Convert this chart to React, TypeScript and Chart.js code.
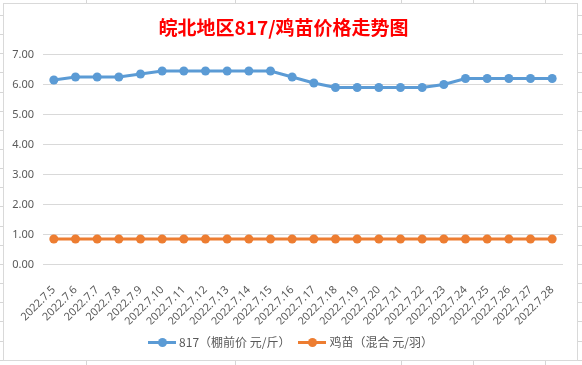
import React, { useEffect, useRef } from "react";
import { Chart, registerables } from "chart.js";

Chart.register(...registerables);

const TITLE = "皖北地区817/鸡苗价格走势图";
const CATEGORIES = [
  "2022.7.5", "2022.7.6", "2022.7.7", "2022.7.8", "2022.7.9", "2022.7.10",
  "2022.7.11", "2022.7.12", "2022.7.13", "2022.7.14", "2022.7.15", "2022.7.16",
  "2022.7.17", "2022.7.18", "2022.7.19", "2022.7.20", "2022.7.21", "2022.7.22",
  "2022.7.23", "2022.7.24", "2022.7.25", "2022.7.26", "2022.7.27", "2022.7.28",
];
const SERIES_817_NAME = "817（棚前价 元/斤）";
const SERIES_817 = [
  6.15, 6.25, 6.25, 6.25, 6.35, 6.45, 6.45, 6.45, 6.45, 6.45, 6.45, 6.25,
  6.05, 5.9, 5.9, 5.9, 5.9, 5.9, 6.0, 6.2, 6.2, 6.2, 6.2, 6.2,
];
const SERIES_CHICK_NAME = "鸡苗（混合 元/羽）";
const SERIES_CHICK = [
  0.85, 0.85, 0.85, 0.85, 0.85, 0.85, 0.85, 0.85, 0.85, 0.85, 0.85, 0.85,
  0.85, 0.85, 0.85, 0.85, 0.85, 0.85, 0.85, 0.85, 0.85, 0.85, 0.85, 0.85,
];
const Y_MIN = 0;
const Y_MAX = 7;
const Y_STEP = 1;

const BLUE = "#5b9bd5";
const ORANGE = "#ed7d31";
const TEXT = "#595959";
const GRID = "#d9d9d9";

const SERIES = [
  { name: SERIES_817_NAME, data: SERIES_817, color: BLUE },
  { name: SERIES_CHICK_NAME, data: SERIES_CHICK, color: ORANGE },
];

const gridBg =
  "linear-gradient(90deg, transparent 86px, #d6d6d6 86px, #d6d6d6 87px, transparent 87px, transparent 235px, #d6d6d6 235px, #d6d6d6 236px, transparent 236px, transparent 401px, #d6d6d6 401px, #d6d6d6 402px, transparent 402px, transparent 473px, #d6d6d6 473px, #d6d6d6 474px, transparent 474px, transparent 545px, #d6d6d6 545px, #d6d6d6 546px, transparent 546px)," +
  "repeating-linear-gradient(180deg, transparent 0px, transparent 15px, #d6d6d6 15px, #d6d6d6 16px, transparent 16px, transparent 19.15px)";

export default function App() {
  const ref = useRef<HTMLCanvasElement | null>(null);

  useEffect(() => {
    if (!ref.current) return;
    const chart = new Chart(ref.current, {
      type: "line",
      data: {
        labels: CATEGORIES,
        datasets: SERIES.map((s) => ({
          label: s.name,
          data: s.data,
          borderColor: s.color,
          backgroundColor: s.color,
          borderWidth: 3,
          pointRadius: 4.5,
          pointHoverRadius: 4.5,
          pointBorderWidth: 0,
          pointBackgroundColor: s.color,
          tension: 0,
        })),
      },
      options: {
        responsive: false,
        animation: false,
        layout: { padding: { left: 0, right: 14, top: 0, bottom: 35.5 } },
        plugins: {
          legend: { display: false },
          tooltip: { enabled: false },
          title: {
            display: true,
            text: TITLE,
            color: "#ff0000",
            font: { family: "'Noto Sans CJK SC', sans-serif", size: 19, weight: "bold" },
            padding: { top: 12, bottom: 15.7 },
          },
        },
        scales: {
          x: {
            offset: true,
            grid: { display: false },
            border: { display: false },
            ticks: {
              color: TEXT,
              font: { family: "'Noto Sans', sans-serif", size: 11 },
              maxRotation: 45,
              minRotation: 45,
              autoSkip: false,
              padding: 11,
            },
            afterFit: (scale: any) => {
              scale.height = 60;
            },
          },
          y: {
            min: Y_MIN,
            max: Y_MAX,
            grid: { color: GRID, lineWidth: 1, drawTicks: false },
            border: { display: false },
            ticks: {
              stepSize: Y_STEP,
              color: TEXT,
              padding: 9,
              font: { family: "'Noto Sans', sans-serif", size: 11 },
              callback: (v: any) => Number(v).toFixed(2),
            },
            afterFit: (scale: any) => {
              scale.width = 39;
            },
          },
        },
      },
    });
    return () => chart.destroy();
  }, []);

  return (
    <div
      style={{
        position: "fixed",
        left: 0,
        top: 0,
        width: 582,
        height: 365,
        background: gridBg,
        backgroundColor: "#ffffff",
      }}
    >
      <div
        style={{
          position: "absolute",
          left: 3,
          top: 3,
          width: 573,
          height: 356,
          border: "1px solid #d9d9d9",
          background: "#ffffff",
        }}
      >
        <canvas ref={ref} width={573} height={356} style={{ display: "block", width: 573, height: 356 }} />
        <div
          style={{
            position: "absolute",
            left: 0,
            width: 573,
            top: 330,
            height: 16,
            display: "flex",
            justifyContent: "center",
            alignItems: "center",
            gap: 8,
            fontFamily: "'Noto Sans CJK SC', sans-serif",
            fontSize: 12,
            color: TEXT,
            lineHeight: "16px",
          }}
        >
          {SERIES.map((s) => (
            <div key={s.name} style={{ display: "flex", alignItems: "center" }}>
              <span style={{ position: "relative", width: 28, height: 9, marginRight: 3, display: "inline-block" }}>
                <span style={{ position: "absolute", left: 0, top: 3, width: 28, height: 3, background: s.color }} />
                <span
                  style={{
                    position: "absolute",
                    left: 9.5,
                    top: 0,
                    width: 9,
                    height: 9,
                    borderRadius: "50%",
                    background: s.color,
                  }}
                />
              </span>
              <span>{s.name}</span>
            </div>
          ))}
        </div>
      </div>
    </div>
  );
}
